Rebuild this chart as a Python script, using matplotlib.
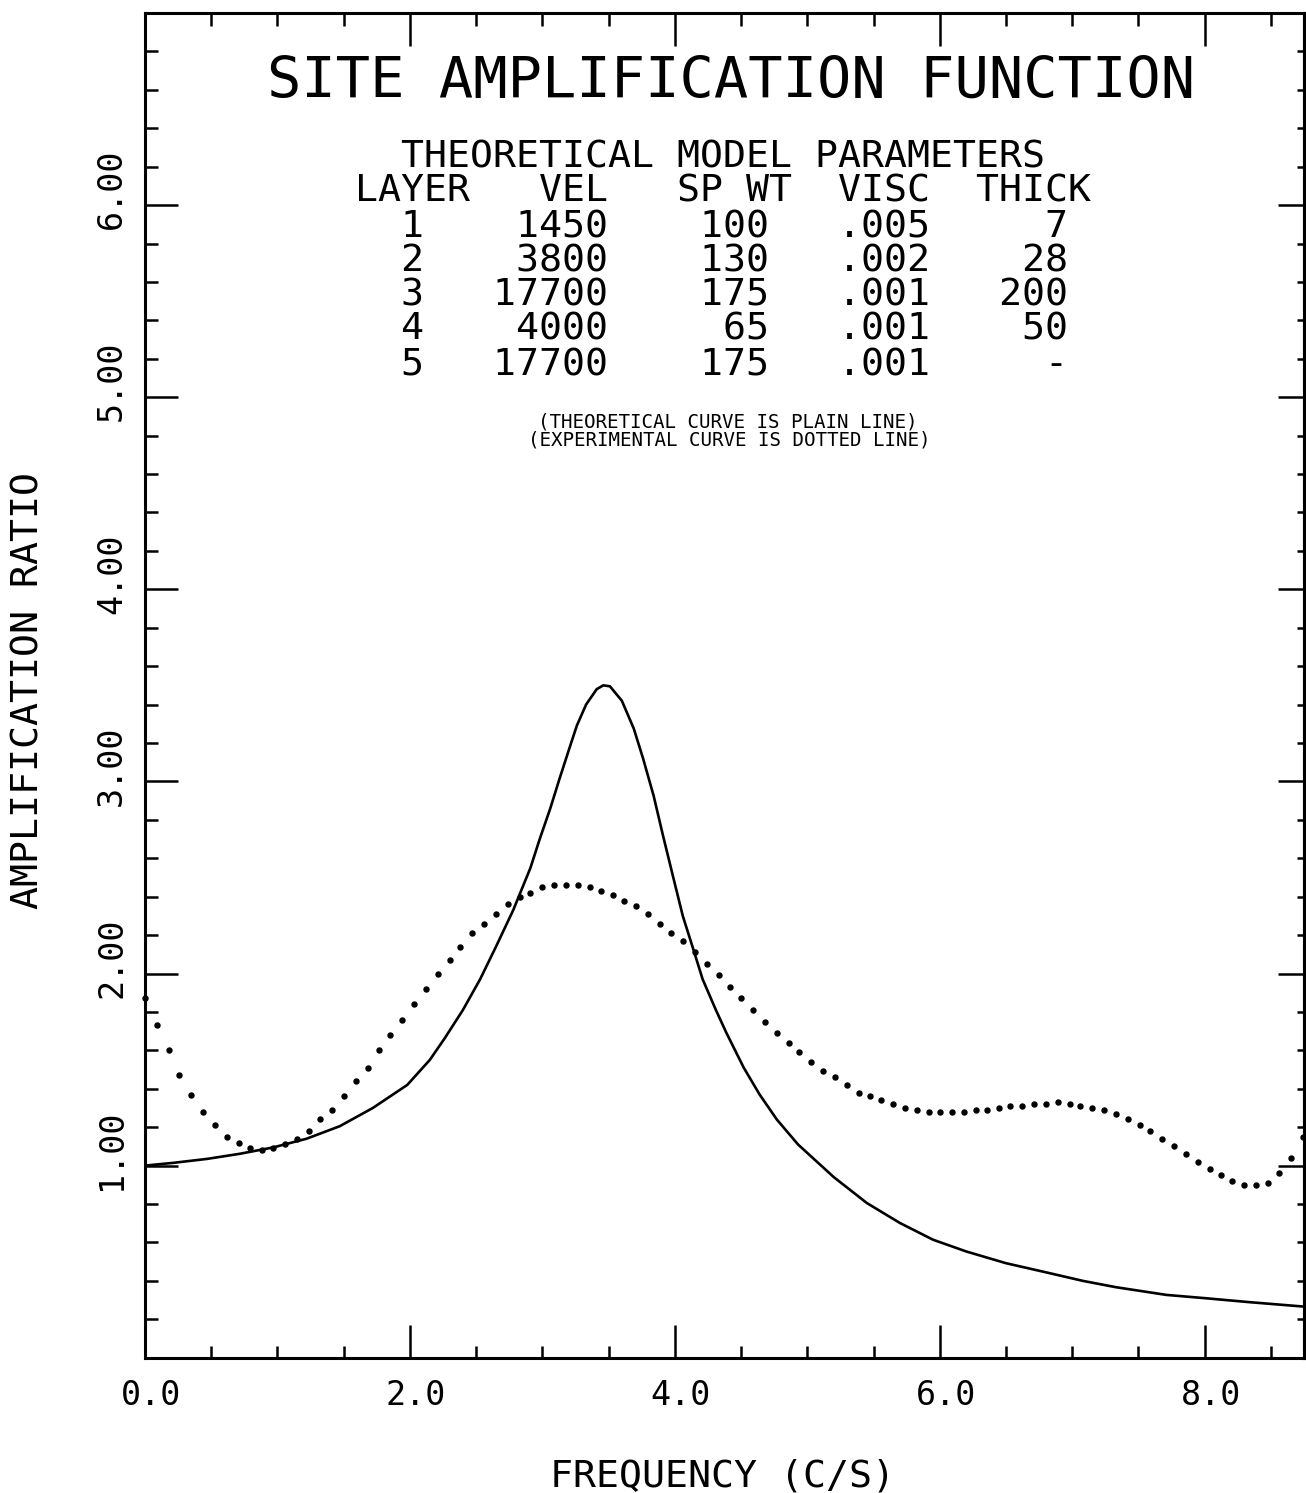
# site amplification function: theoretical vs experimental curve

import matplotlib
matplotlib.use("Agg")
import matplotlib.pyplot as plt
from matplotlib.ticker import MultipleLocator
from matplotlib.transforms import ScaledTranslation

plt.rcParams["font.family"] = ["DejaVu Sans Mono", "DejaVu Sans"]

# theoretical curve (plain line)
theo_freq = [0.00, 0.21, 0.47, 0.72, 0.97, 1.22, 1.47, 1.72, 1.98, 2.15,
             2.26, 2.40, 2.53, 2.65, 2.78, 2.91, 2.98, 3.06, 3.13, 3.21,
             3.26, 3.33, 3.41, 3.46, 3.51, 3.60, 3.69, 3.76, 3.84, 3.91,
             3.99, 4.06, 4.14, 4.21, 4.31, 4.39, 4.52, 4.64, 4.77, 4.93,
             5.20, 5.45, 5.70, 5.95, 6.20, 6.50, 6.83, 7.08, 7.33, 7.71,
             8.00, 8.34, 8.75]
theo_amp = [1.000, 1.014, 1.035, 1.062, 1.095, 1.140, 1.205, 1.300, 1.420, 1.550,
            1.660, 1.810, 1.970, 2.140, 2.330, 2.550, 2.700, 2.860, 3.015, 3.185,
            3.290, 3.400, 3.480, 3.500, 3.495, 3.420, 3.275, 3.120, 2.925, 2.720,
            2.495, 2.300, 2.125, 1.970, 1.810, 1.690, 1.510, 1.370, 1.240, 1.110,
            0.940, 0.805, 0.701, 0.614, 0.553, 0.492, 0.440, 0.400, 0.367, 0.327,
            0.310, 0.289, 0.266]

# experimental curve (dotted line), one value per plotted dot
exp_freq = [0.00, 0.09, 0.18, 0.26, 0.35, 0.44, 0.53, 0.62, 0.71, 0.79,
            0.88, 0.97, 1.06, 1.15, 1.24, 1.32, 1.41, 1.50, 1.59, 1.68,
            1.77, 1.85, 1.94, 2.03, 2.12, 2.21, 2.30, 2.38, 2.47, 2.56,
            2.65, 2.74, 2.83, 2.91, 3.00, 3.09, 3.18, 3.27, 3.36, 3.44,
            3.53, 3.62, 3.71, 3.80, 3.89, 3.97, 4.06, 4.15, 4.24, 4.33,
            4.42, 4.50, 4.59, 4.68, 4.77, 4.86, 4.94, 5.03, 5.12, 5.21,
            5.30, 5.39, 5.47, 5.56, 5.65, 5.74, 5.83, 5.92, 6.00, 6.09,
            6.18, 6.27, 6.36, 6.45, 6.53, 6.62, 6.71, 6.80, 6.89, 6.98,
            7.06, 7.15, 7.24, 7.33, 7.42, 7.51, 7.59, 7.68, 7.77, 7.86,
            7.95, 8.04, 8.12, 8.21, 8.30, 8.39, 8.48, 8.56, 8.65, 8.74]
exp_amp = [1.87, 1.73, 1.60, 1.47, 1.37, 1.28, 1.21, 1.15, 1.12, 1.09,
           1.08, 1.09, 1.11, 1.14, 1.18, 1.24, 1.29, 1.36, 1.44, 1.51,
           1.60, 1.68, 1.76, 1.84, 1.92, 2.00, 2.07, 2.14, 2.21, 2.26,
           2.31, 2.36, 2.40, 2.42, 2.45, 2.46, 2.46, 2.46, 2.45, 2.43,
           2.41, 2.38, 2.35, 2.31, 2.26, 2.21, 2.17, 2.11, 2.05, 1.99,
           1.93, 1.87, 1.81, 1.75, 1.69, 1.64, 1.59, 1.54, 1.49, 1.46,
           1.42, 1.38, 1.36, 1.34, 1.32, 1.30, 1.29, 1.28, 1.28, 1.28,
           1.28, 1.29, 1.29, 1.30, 1.31, 1.31, 1.32, 1.32, 1.33, 1.32,
           1.31, 1.30, 1.29, 1.27, 1.24, 1.21, 1.18, 1.14, 1.10, 1.06,
           1.02, 0.98, 0.95, 0.92, 0.90, 0.90, 0.91, 0.96, 1.04, 1.15]

# model parameter table
layers = [1, 2, 3, 4, 5]
vel = [1450, 3800, 17700, 4000, 17700]
sp_wt = [100, 130, 175, 65, 175]
visc = [".005", ".002", ".001", ".001", ".001"]
thick = ["7", "28", "200", "50", "-"]

x_ticks = [0.0, 2.0, 4.0, 6.0, 8.0]
y_ticks = [1.0, 2.0, 3.0, 4.0, 5.0, 6.0]

W, H = 1306, 1493
fig = plt.figure(figsize=(W / 100, H / 100), dpi=100)
ax = fig.add_axes([145 / W, (H - 1357.7) / H, 1159 / W, 1344.7 / H])

ax.plot(theo_freq, theo_amp, color="black", lw=1.9)
ax.plot(exp_freq, exp_amp, linestyle="none", marker="o", markersize=3.6,
        color="black", clip_on=False)

ax.set_xlim(0, 8.75)
ax.set_ylim(0, 7.0)

for s in ax.spines.values():
    s.set_linewidth(2.2)

ax.xaxis.set_major_locator(MultipleLocator(2.0))
ax.xaxis.set_minor_locator(MultipleLocator(0.5))
ax.yaxis.set_major_locator(MultipleLocator(1.0))
ax.yaxis.set_minor_locator(MultipleLocator(0.2))
ax.tick_params(which="both", direction="in", top=True, right=False,
               labelbottom=False, labelleft=False, width=1.8)
ax.tick_params(which="major", length=24)
ax.tick_params(which="minor", length=9)

# right side has shorter ticks
sec = ax.secondary_yaxis("right")
sec.yaxis.set_major_locator(MultipleLocator(1.0))
sec.yaxis.set_minor_locator(MultipleLocator(0.2))
sec.tick_params(which="both", direction="in", labelright=False, width=1.8)
sec.tick_params(which="major", length=19)
sec.tick_params(which="minor", length=5)
sec.spines["right"].set_linewidth(2.2)

# tick labels, plotter style
for v in x_ticks:
    ax.text(v, 0, f"{v:.1f}", fontsize=24, ha="center", va="baseline",
            transform=ax.get_xaxis_transform()
            + ScaledTranslation(0.06, -0.47, fig.dpi_scale_trans))
for v in y_ticks:
    ax.text(0, v, f"{v:.2f}", fontsize=24, rotation=90, ha="center", va="center",
            transform=ax.get_yaxis_transform()
            + ScaledTranslation(-0.335, 0.16, fig.dpi_scale_trans))

fig.text(28.5 / W, 1 - 690 / H, "AMPLIFICATION RATIO", fontsize=27.5,
         rotation=90, ha="center", va="center")
fig.text(722 / W, 1 - 1487 / H, "FREQUENCY (C/S)", fontsize=27.5,
         ha="center", va="baseline")

# title and parameter block inside the frame
fig.text(731 / W, 1 - 98 / H, "SITE AMPLIFICATION FUNCTION", fontsize=41,
         ha="center", va="baseline")

rows = ["  THEORETICAL MODEL PARAMETERS",
        "LAYER   VEL   SP WT  VISC  THICK"]
for i in range(len(layers)):
    rows.append(f"  {layers[i]}{vel[i]:>8}{sp_wt[i]:>7}{visc[i]:>7}{thick[i]:>6}")
baselines = [167, 202, 237, 271, 305, 340, 375]
for txt, b in zip(rows, baselines):
    fig.text(355 / W, 1 - b / H, txt, fontsize=27.5, ha="left", va="baseline")

fig.text(728 / W, 1 - 428 / H, "(THEORETICAL CURVE IS PLAIN LINE)",
         fontsize=13.8, ha="center", va="baseline")
fig.text(729 / W, 1 - 445 / H, "(EXPERIMENTAL CURVE IS DOTTED LINE)",
         fontsize=13.8, ha="center", va="baseline")

fig.savefig("out.png", dpi=100)
